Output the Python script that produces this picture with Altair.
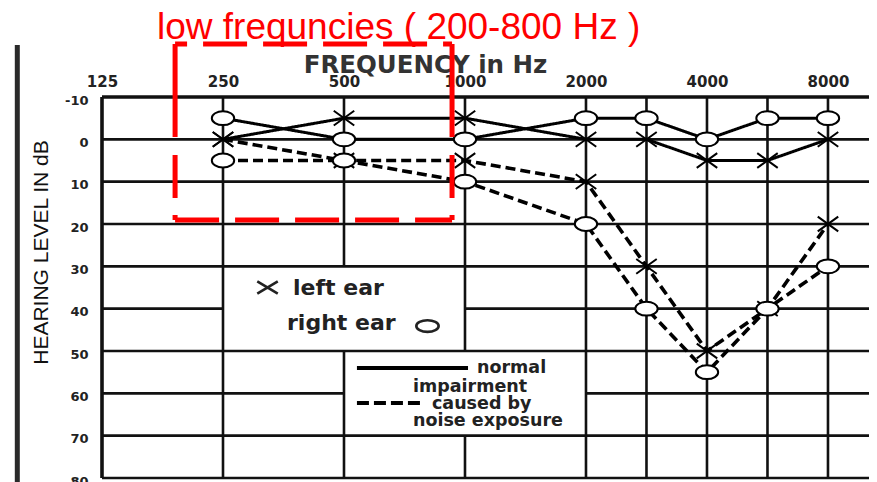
import altair as alt
import pandas as pd

# ---------------- audiogram data ----------------
FREQ_LABELS = [250, 500, 1000, 2000, 3000, 4000, 6000, 8000]
FREQ_COLUMN = [1, 2, 3, 4, 4.5, 5, 5.5, 6]          # chart column (125 Hz = 0, one column per octave)
RIGHT_NORMAL = [-5, 0, 0, -5, -5, 0, -5, -5]         # circles, solid
LEFT_NORMAL = [0, -5, -5, 0, 0, 5, 5, 0]             # crosses, solid
LEFT_NOISE = [0, 5, 5, 10, 30, 50, 40, 20]           # crosses, dashed
RIGHT_NOISE = [5, 5, 10, 20, 40, 55, 40, 30]         # circles, dashed

X_TICKS = [0, 1, 2, 3, 4, 5, 6]                      # 125 ... 8000 Hz
Y_TICKS = [-10, 0, 10, 20, 30, 40, 50, 60, 70, 80]
X_MAX = 6.339

# grid: horizontal (dB, from col, to col) / vertical (col, from dB, to dB)
H_GRID = [(0, 0, X_MAX), (10, 0, X_MAX), (20, 0, X_MAX), (30, 0, X_MAX),
          (40, 0, 1), (40, 3, X_MAX), (50, 0, X_MAX), (60, 0, 2), (60, 4, X_MAX),
          (70, 0, X_MAX), (80, 0, X_MAX)]
V_GRID = [(1, -10, 80), (2, -10, 30), (2, 50, 80), (3, -10, 50), (3, 70, 80),
          (4, -10, 80), (4.5, -10, 80), (5, -10, 80), (5.5, -10, 80), (6, -10, 80)]
BORDERS = [(0, X_MAX, -10, -10), (0, 0, -10, 80)]

# legend boxes drawn inside the grid
LEG1_TEXT = ["left ear", "right ear"]
LEG1_COL = [1.579, 1.529]
LEG1_DB = [36.8, 45.0]
LEG1_SYM_EAR = ["left", "right"]
LEG1_SYM_COL = [1.368, 2.69]
LEG1_SYM_DB = [35.0, 44.1]
LEG2_TEXT = ["normal", "impairment", "caused by", "noise exposure"]
LEG2_COL = [3.099, 2.570, 2.727, 2.570]
LEG2_DB = [55.2, 59.7, 63.7, 67.7]
LEG2_SOLID = (2.107, 3.025, 54.0)
LEG2_DASH = (2.107, 2.628, 62.3)

# red annotation
ANNOT_TEXT = "low frequncies ( 200-800 Hz )"
ANNOT_POS = (0.4545, -23.7)
BOX_COLS = (0.604, 2.893)
BOX_DB = (-22.5, 19.06)

# scan edge bar at far left
SCAN_BAR = (-0.70, -22.3, 85)

X_PATH = "M-1,-0.72L1,0.72M-1,0.72L1,-0.72"
O_PATH = "M-1,0A1,0.62,0,1,1,1,0A1,0.62,0,1,1,-1,0Z"
X_LEG_PATH = "M-1,-0.6L1,0.6M-1,0.6L1,-0.6"
O_LEG_PATH = "M-1,0A1,0.52,0,1,1,1,0A1,0.52,0,1,1,-1,0Z"

# ---------------- tables ----------------
rows = []
for name, ear, kind, vals in [("right_normal", "right", "normal", RIGHT_NORMAL),
                              ("left_normal", "left", "normal", LEFT_NORMAL),
                              ("left_noise", "left", "noise", LEFT_NOISE),
                              ("right_noise", "right", "noise", RIGHT_NOISE)]:
    for c, f, v in zip(FREQ_COLUMN, FREQ_LABELS, vals):
        rows.append({"series": name, "ear": ear, "kind": kind, "col": c, "freq": f, "db": v})
df = pd.DataFrame(rows)

grid = pd.DataFrame([{"x1": a, "x2": b, "y1": y, "y2": y} for y, a, b in H_GRID] +
                    [{"x1": x, "x2": x, "y1": a, "y2": b} for x, a, b in V_GRID])
borders = pd.DataFrame([{"x1": a, "x2": b, "y1": c, "y2": d} for a, b, c, d in BORDERS])

xs = alt.Scale(domain=[0, X_MAX], nice=False, zero=False)
ys = alt.Scale(domain=[-10, 80], reverse=True, nice=False, zero=False)

x_axis = alt.Axis(orient="top", values=X_TICKS, labelExpr="125 * pow(2, datum.value)",
                  domain=False, ticks=False, grid=False, labelFont="DejaVu Sans",
                  labelFontWeight="bold", labelFontSize=15, labelColor="#222",
                  labelPadding=8, labelOverlap=False, labelFlush=False,
                  title="FREQUENCY in Hz", titleFont="DejaVu Sans", titleFontWeight="bold",
                  titleFontSize=24.5, titleColor="#333", titleX=323, titleY=-25,
                  titleAlign="center", titleBaseline="alphabetic", titleAngle=0)
y_axis = alt.Axis(orient="left", values=Y_TICKS, domain=False, ticks=False, grid=False,
                  labelExpr="toString(datum.value)",
                  labelFont="DejaVu Sans", labelFontWeight="bold", labelFontSize=13,
                  labelColor="#222", labelPadding=14, labelOffset=3, labelFlush=False,
                  title="HEARING LEVEL IN dB", titleFont="Liberation Sans",
                  titleFontWeight="normal", titleFontSize=21, titleColor="#111",
                  titleX=-61, titleY=155, titleAngle=270, titleAlign="center",
                  titleBaseline="middle")

grid_layer = alt.Chart(grid).mark_rule(color="#111", strokeWidth=2.6).encode(
    x=alt.X("x1:Q", scale=xs, axis=x_axis),
    x2="x2:Q",
    y=alt.Y("y1:Q", scale=ys, axis=y_axis),
    y2="y2:Q")
border_layer = alt.Chart(borders).mark_rule(color="#111", strokeWidth=3.6).encode(
    x="x1:Q", x2="x2:Q", y="y1:Q", y2="y2:Q")

lines = alt.Chart(df).mark_line(color="black").encode(
    x="col:Q", y="db:Q", detail="series:N",
    strokeDash=alt.StrokeDash("kind:N", scale=alt.Scale(domain=["normal", "noise"],
                                                         range=[[1, 0], [10, 5]]), legend=None),
    strokeWidth=alt.StrokeWidth("kind:N", scale=alt.Scale(domain=["normal", "noise"],
                                                           range=[3, 3.6]), legend=None))

points = alt.Chart(df).mark_point(filled=True, fill="white", stroke="black", strokeWidth=2,
                                  opacity=1, fillOpacity=1).encode(
    x="col:Q", y="db:Q",
    shape=alt.Shape("ear:N", scale=alt.Scale(domain=["left", "right"], range=[X_PATH, O_PATH]),
                    legend=None),
    size=alt.Size("ear:N", scale=alt.Scale(domain=["left", "right"], range=[420, 500]),
                  legend=None))

# legend box 1
leg1_txt = pd.DataFrame({"t": LEG1_TEXT, "col": LEG1_COL, "db": LEG1_DB})
leg1_sym = pd.DataFrame({"ear": LEG1_SYM_EAR, "col": LEG1_SYM_COL, "db": LEG1_SYM_DB})
leg1_text_layer = alt.Chart(leg1_txt).mark_text(
    align="left", baseline="alphabetic", font="DejaVu Sans", fontWeight="bold",
    fontSize=22, color="#222").encode(x="col:Q", y="db:Q", text="t:N")
leg1_sym_layer = alt.Chart(leg1_sym).mark_point(filled=True, fill="white", stroke="#222",
                                                strokeWidth=2.6, opacity=1).transform_calculate(
    shp=f"datum.ear == 'left' ? '{X_LEG_PATH}' : '{O_LEG_PATH}'"
).encode(x="col:Q", y="db:Q",
         shape=alt.Shape("shp:N", scale=None),
         size=alt.Size("ear:N", scale=alt.Scale(domain=["left", "right"], range=[625, 530]),
                       legend=None))

# legend box 2
leg2_txt = pd.DataFrame({"t": LEG2_TEXT, "col": LEG2_COL, "db": LEG2_DB})
leg2_text_layer = alt.Chart(leg2_txt).mark_text(
    align="left", baseline="alphabetic", font="DejaVu Sans", fontWeight="bold",
    fontSize=17.5, color="#222").encode(x="col:Q", y="db:Q", text="t:N")
leg2_solid = alt.Chart(pd.DataFrame({"a": [LEG2_SOLID[0]], "b": [LEG2_SOLID[1]], "y": [LEG2_SOLID[2]]})
                       ).mark_rule(color="black", strokeWidth=4).encode(x="a:Q", x2="b:Q", y="y:Q")
leg2_dash = alt.Chart(pd.DataFrame({"a": [LEG2_DASH[0]], "b": [LEG2_DASH[1]], "y": [LEG2_DASH[2]]})
                      ).mark_rule(color="black", strokeWidth=4, strokeDash=[12, 5]).encode(
    x="a:Q", x2="b:Q", y="y:Q")

# red annotation
annot = alt.Chart(pd.DataFrame({"t": [ANNOT_TEXT], "col": [ANNOT_POS[0]], "db": [ANNOT_POS[1]]})
                  ).mark_text(align="left", baseline="alphabetic", font="Liberation Sans",
                              fontSize=37, color="#ff0000").encode(x="col:Q", y="db:Q", text="t:N")
box_top = alt.Chart(pd.DataFrame({"a": [BOX_COLS[0]], "b": [BOX_COLS[1]], "y": [BOX_DB[0]]})
                    ).mark_rule(color="#ff0000", strokeWidth=5, strokeDash=[44, 16],
                                strokeDashOffset=32).encode(x="a:Q", x2="b:Q", y="y:Q")
box_bottom = alt.Chart(pd.DataFrame({"a": [BOX_COLS[0]], "b": [BOX_COLS[1]], "y": [BOX_DB[1]]})
                       ).mark_rule(color="#ff0000", strokeWidth=5, strokeDash=[44, 16]).encode(
    x="a:Q", x2="b:Q", y="y:Q")
box_sides = alt.Chart(pd.DataFrame({"x": list(BOX_COLS), "a": [BOX_DB[0]] * 2, "b": [BOX_DB[1]] * 2})
                      ).mark_rule(color="#ff0000", strokeWidth=5,
                                  strokeDash=[93, 18, 43, 17, 80]).encode(
    x="x:Q", y="a:Q", y2="b:Q")

scan_bar = alt.Chart(pd.DataFrame({"x": [SCAN_BAR[0]], "a": [SCAN_BAR[1]], "b": [SCAN_BAR[2]]})
                     ).mark_rule(color="#2a2a2a", strokeWidth=5).encode(x="x:Q", y="a:Q", y2="b:Q")

chart = alt.layer(
    grid_layer, border_layer, lines, points,
    leg1_text_layer, leg1_sym_layer, leg2_text_layer, leg2_solid, leg2_dash,
    box_top, box_bottom, box_sides, annot, scan_bar
).properties(
    width=767, height=381,
    padding={"left": 94, "top": 89, "right": 0, "bottom": 4},
    autosize=alt.AutoSizeParams(type="none"),
    background="white"
).configure_view(stroke=None)

chart.save("out.html", embed_options={"renderer": "svg", "actions": False})
